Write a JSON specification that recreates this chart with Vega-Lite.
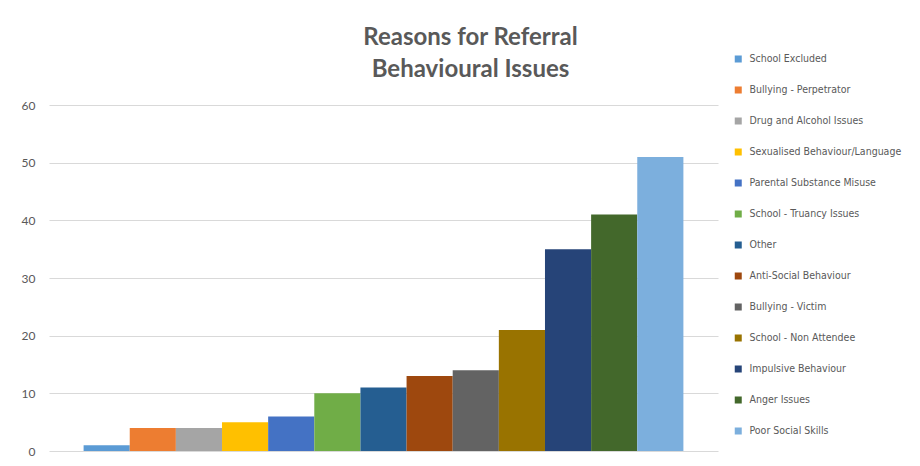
{
  "$schema": "https://vega.github.io/schema/vega-lite/v6.json",
  "autosize": {"type": "none"},
  "padding": {"left": 49, "top": 105, "right": 202, "bottom": 15},
  "width": 669,
  "height": 346,
  "background": "#ffffff",
  "title": {
    "text": ["Reasons for Referral", "Behavioural Issues"],
    "anchor": "middle",
    "frame": "group",
    "dx": 87,
    "dy": 53,
    "offset": 24,
    "lineHeight": 32,
    "font": "Lato",
    "fontSize": 24,
    "fontWeight": "bold",
    "color": "#595959"
  },
  "data": {
    "values": [
      {"reason": "School Excluded", "count": 1},
      {"reason": "Bullying - Perpetrator", "count": 4},
      {"reason": "Drug and Alcohol Issues", "count": 4},
      {"reason": "Sexualised Behaviour/Language", "count": 5},
      {"reason": "Parental Substance Misuse", "count": 6},
      {"reason": "School - Truancy Issues", "count": 10},
      {"reason": "Other", "count": 11},
      {"reason": "Anti-Social Behaviour", "count": 13},
      {"reason": "Bullying - Victim", "count": 14},
      {"reason": "School - Non Attendee", "count": 21},
      {"reason": "Impulsive Behaviour", "count": 35},
      {"reason": "Anger Issues", "count": 41},
      {"reason": "Poor Social Skills", "count": 51}
    ]
  },
  "mark": {"type": "bar"},
  "encoding": {
    "x": {
      "field": "reason",
      "type": "nominal",
      "sort": null,
      "scale": {"paddingInner": 0, "paddingOuter": 0.75},
      "axis": null
    },
    "y": {
      "field": "count",
      "type": "quantitative",
      "scale": {"domain": [0, 60], "nice": false},
      "axis": {
        "title": null,
        "values": [0, 10, 20, 30, 40, 50, 60],
        "domain": false,
        "ticks": false,
        "labelPadding": 14,
        "labelFont": "Lato",
        "labelFontSize": 12,
        "labelColor": "#595959",
        "gridColor": "#d9d9d9",
        "gridWidth": 1
      }
    },
    "color": {
      "field": "reason",
      "type": "nominal",
      "sort": null,
      "scale": {
        "domain": [
          "School Excluded", "Bullying - Perpetrator", "Drug and Alcohol Issues",
          "Sexualised Behaviour/Language", "Parental Substance Misuse", "School - Truancy Issues",
          "Other", "Anti-Social Behaviour", "Bullying - Victim", "School - Non Attendee",
          "Impulsive Behaviour", "Anger Issues", "Poor Social Skills"
        ],
        "range": [
          "#5b9bd5", "#ed7d31", "#a5a5a5", "#ffc000", "#4472c4", "#70ad47",
          "#255e91", "#9e480e", "#636363", "#997300", "#264478", "#43682b", "#7cafdd"
        ]
      },
      "legend": {
        "title": null,
        "orient": "none",
        "legendX": 684,
        "legendY": -52,
        "symbolType": "square",
        "symbolSize": 49,
        "symbolStrokeWidth": 0,
        "symbolOffset": 0,
        "labelFont": "'DejaVu Sans Condensed', Lato, sans-serif",
        "labelFontSize": 10.5,
        "labelColor": "#595959",
        "labelOffset": 6,
        "labelLimit": 200,
        "rowPadding": 19,
        "clipHeight": 12
      }
    }
  },
  "config": {
    "view": {"stroke": null}
  }
}
